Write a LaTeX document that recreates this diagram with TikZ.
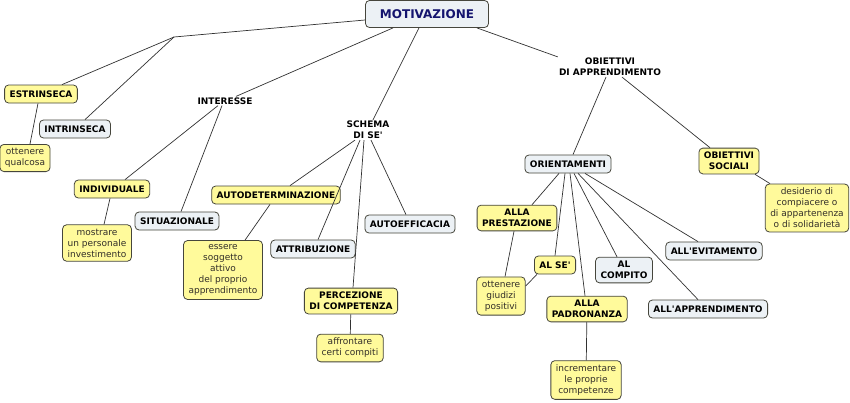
\documentclass[tikz,border=0pt]{standalone}
\usepackage{fontspec}
\setmainfont{DejaVu Sans}
\definecolor{yfill}{RGB}{255,250,155}
\definecolor{bfill}{RGB}{236,241,245}
\definecolor{bord}{RGB}{70,70,60}
\definecolor{navy}{RGB}{20,20,110}
\definecolor{edgec}{RGB}{50,50,50}
\newcommand{\ap}{\textquotesingle}
\begin{document}
\begin{tikzpicture}[x=1pt,y=-1pt,
  base/.style={draw=bord,line width=0.8pt,rounded corners=4pt,align=center,
    font=\fontsize{9}{11}\selectfont,inner xsep=5pt,inner ysep=4pt,minimum height=18pt},
  yb/.style={base,fill=yfill,font=\fontsize{9}{11}\selectfont\bfseries},
  bb/.style={base,fill=bfill,font=\fontsize{9}{11}\selectfont\bfseries},
  yt/.style={base,fill=yfill,text=black!85!olive},
  lbl/.style={align=center,font=\fontsize{9}{11}\selectfont\bfseries,inner sep=1pt},
  root/.style={base,fill=bfill,text=navy,font=\fontsize{12}{14}\selectfont\bfseries,
    minimum width=123pt,minimum height=27pt},
  ln/.style={draw=edgec,line width=0.7pt}]
\fill[white] (0,0) rectangle (850,402);
\useasboundingbox (0,0) rectangle (850,402);

\node[root] (mot) at (427,14) {MOTIVAZIONE};
\coordinate (j) at (174,37);

\node[yb] (estr) at (41,94) {ESTRINSECA};
\node[bb] (intr) at (75,129) {INTRINSECA};
\node[yt] (ottq) at (25,158) {ottenere\\qualcosa};

\node[lbl] (inter) at (225,101) {INTERESSE};
\node[yb] (indiv) at (112,189) {INDIVIDUALE};
\node[yt] (mostr) at (97,243) {mostrare\\un personale\\investimento};
\node[bb] (situ) at (177,221) {SITUAZIONALE};

\node[lbl] (schema) at (368,130) {SCHEMA\\DI SE\ap};
\node[yb] (autod) at (276,195) {AUTODETERMINAZIONE};
\node[yt] (essere) at (223,270) {essere\\soggetto\\attivo\\del proprio\\apprendimento};
\node[bb] (attr) at (313,249) {ATTRIBUZIONE};
\node[bb] (autoe) at (410,224) {AUTOEFFICACIA};
\node[yb] (perc) at (351,301) {PERCEZIONE\\DI COMPETENZA};
\node[yt] (affr) at (350,348) {affrontare\\certi compiti};

\node[lbl] (obapp) at (610,67) {OBIETTIVI\\DI APPRENDIMENTO};
\node[bb] (orie) at (568,164) {ORIENTAMENTI};
\node[yb] (obsoc) at (729,161) {OBIETTIVI\\SOCIALI};
\node[yt] (desid) at (807,208) {desiderio di\\compiacere o\\di appartenenza\\o di solidarietà};
\node[yb] (prest) at (517,218) {ALLA\\PRESTAZIONE};
\node[yb] (alse) at (555,265) {AL SE\ap};
\node[bb] (compito) at (624,270) {AL\\COMPITO};
\node[bb] (evit) at (714,251) {ALL\ap EVITAMENTO};
\node[yt] (giud) at (501,296) {ottenere\\giudizi\\positivi};
\node[yb] (padr) at (587,309) {ALLA\\PADRONANZA};
\node[bb] (appr) at (708,309) {ALL\ap APPRENDIMENTO};
\node[yt] (incr) at (586,380) {incrementare\\le proprie\\competenze};

\path[ln] (mot.west |- 0,20) -- (j);
\path[ln] (j) -- (estr.north -| 62,0);
\path[ln] (j) -- (intr.north -| 85,0);
\path[ln] (estr.south -| 38,0) -- (ottq.north -| 30,0);

\path[ln] (mot.south -| 393,0) -- (inter.north -| 236,0);
\path[ln] (inter.south -| 218,0) -- (indiv.north -| 125,0);
\path[ln] (inter.south -| 222,0) -- (situ.north -| 181,0);
\path[ln] (indiv.south -| 110,0) -- (mostr.north -| 104,0);

\path[ln] (mot.south -| 419,0) -- (schema.north -| 373,0);
\path[ln] (schema.south -| 355,0) -- (autod.north -| 290,0);
\path[ln] (schema.south -| 360,0) -- (attr.north -| 318,0);
\path[ln] (schema.south -| 364,0) -- (perc.north -| 353,0);
\path[ln] (schema.south -| 371,0) -- (autoe.north -| 406,0);
\path[ln] (autod.south -| 270,0) -- (essere.north -| 245,0);
\path[ln] (perc) -- (affr);

\path[ln] (mot.south east) ++(-12,0) -- (obapp.north west);
\path[ln] (obapp.south -| 606,0) -- (orie.north -| 573,0);
\path[ln] (obapp.south -| 622,0) -- (obsoc.north -| 710,0);
\path[ln] (obsoc.south -| 755,0) -- (desid.north -| 770,0);

\path[ln] (orie.south -| 559,0) -- (prest.north -| 532,0);
\path[ln] (orie.south -| 565,0) -- (alse.north -| 555,0);
\path[ln] (orie.south -| 570,0) -- (padr.north -| 585,0);
\path[ln] (orie.south -| 574,0) -- (compito.north -| 617,0);
\path[ln] (orie.south -| 578,0) -- (appr.north -| 698,0);
\path[ln] (orie.south -| 585,0) -- (evit.north -| 698,0);
\path[ln] (prest.south -| 514,0) -- (giud.north -| 505,0);
\path[ln] (alse.south west) ++(3,0) -- (giud.east |- 0,286);
\path[ln] (padr) -- (incr);
\end{tikzpicture}
\end{document}
